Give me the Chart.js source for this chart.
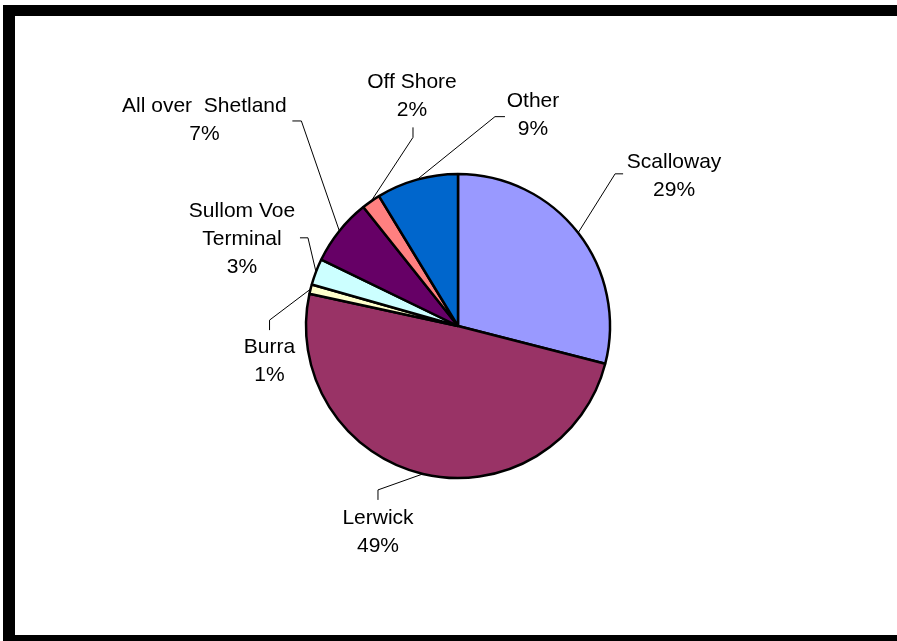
<!DOCTYPE html>
<html>
<head>
<meta charset="utf-8">
<script src="https://cdn.jsdelivr.net/npm/chart.js@4/dist/chart.umd.min.js"></script>
<style>
  html, body { margin: 0; padding: 0; background: #fff; overflow: hidden; }
  #frame {
    position: absolute; left: 3px; top: 5px; width: 1000px; height: 641px;
    box-sizing: border-box; border: 11px solid #000; border-left-width: 12px;
  }
  #wrap { position: absolute; left: 0; top: 0; width: 897px; height: 641px; }
</style>
</head>
<body>
<div id="frame"></div>
<div id="wrap"><canvas id="pie"></canvas></div>
<script>
// data (share of responses, %)
const categories = ['Scalloway', 'Lerwick', 'Burra', ['Sullom Voe', 'Terminal'], 'All over  Shetland', 'Off Shore', 'Other'];
const shares = [29.0, 49.4, 1.0, 2.8, 7.1, 2.0, 8.7];
const sliceColors = ['#9999FF', '#993366', '#FFFFCC', '#CCFFFF', '#660066', '#FF8080', '#0066CC'];

// where each label sits, relative to the slice's edge point: [elbow, end, text centre]
const labelLayout = [
    { elbow: [37, -59], end: [45, -59], text: [96, -57] },
    { elbow: [-45, 16], end: [-45, 26], text: [-45, 58] },
    { elbow: [-41, 31], end: [-41, 41], text: [-41, 72] },
    { elbow: [-8, -34], end: [-16, -34], text: [-74, -33] },
    { elbow: [-38, -110], end: [-47, -110], text: [-135, -111] },
    { elbow: [42, -64], end: [42, -74], text: [41, -105] },
    { elbow: [78, -63], end: [88, -63], text: [116, -64] },
];

const leaderLabels = {
    id: 'leaderLabels',
    afterDatasetsDraw(chart) {
        const ctx = chart.ctx;
        const meta = chart.getDatasetMeta(0);
        const vals = chart.data.datasets[0].data;
        const total = vals.reduce((a, b) => a + b, 0);
        ctx.save();
        ctx.font = '21px "Liberation Sans", Arial, sans-serif';
        ctx.fillStyle = '#000';
        ctx.strokeStyle = '#000';
        ctx.lineWidth = 1;
        ctx.textAlign = 'center';
        ctx.textBaseline = 'middle';
        meta.data.forEach((arc, i) => {
            const mid = (arc.startAngle + arc.endAngle) / 2;
            const px = arc.x + Math.cos(mid) * arc.outerRadius;
            const py = arc.y + Math.sin(mid) * arc.outerRadius;
            const lay = labelLayout[i];
            ctx.beginPath();
            ctx.moveTo(px, py);
            ctx.lineTo(px + lay.elbow[0], py + lay.elbow[1]);
            ctx.lineTo(px + lay.end[0], py + lay.end[1]);
            ctx.stroke();

            const name = chart.data.labels[i];
            const lines = (Array.isArray(name) ? name : [name]).concat(Math.round(vals[i] / total * 100) + '%');
            const lh = 28;
            const top = py + lay.text[1] - (lines.length - 1) * lh / 2;
            lines.forEach((t, k) => ctx.fillText(t, px + lay.text[0], top + k * lh));
        });
        ctx.restore();
    }
};

new Chart(document.getElementById('pie'), {
    type: 'pie',
    data: {
        labels: categories,
        datasets: [{
            data: shares,
            backgroundColor: sliceColors,
            borderColor: '#000',
            borderWidth: 2.5,
            radius: 152,
        }],
    },
    options: {
        responsive: true,
        maintainAspectRatio: false,
        animation: false,
        events: [],
        layout: { padding: { left: 19, top: 11, right: 0, bottom: 0 } },
        plugins: {
            legend: { display: false },
            tooltip: { enabled: false },
        },
    },
    plugins: [leaderLabels],
});
</script>
</body>
</html>
